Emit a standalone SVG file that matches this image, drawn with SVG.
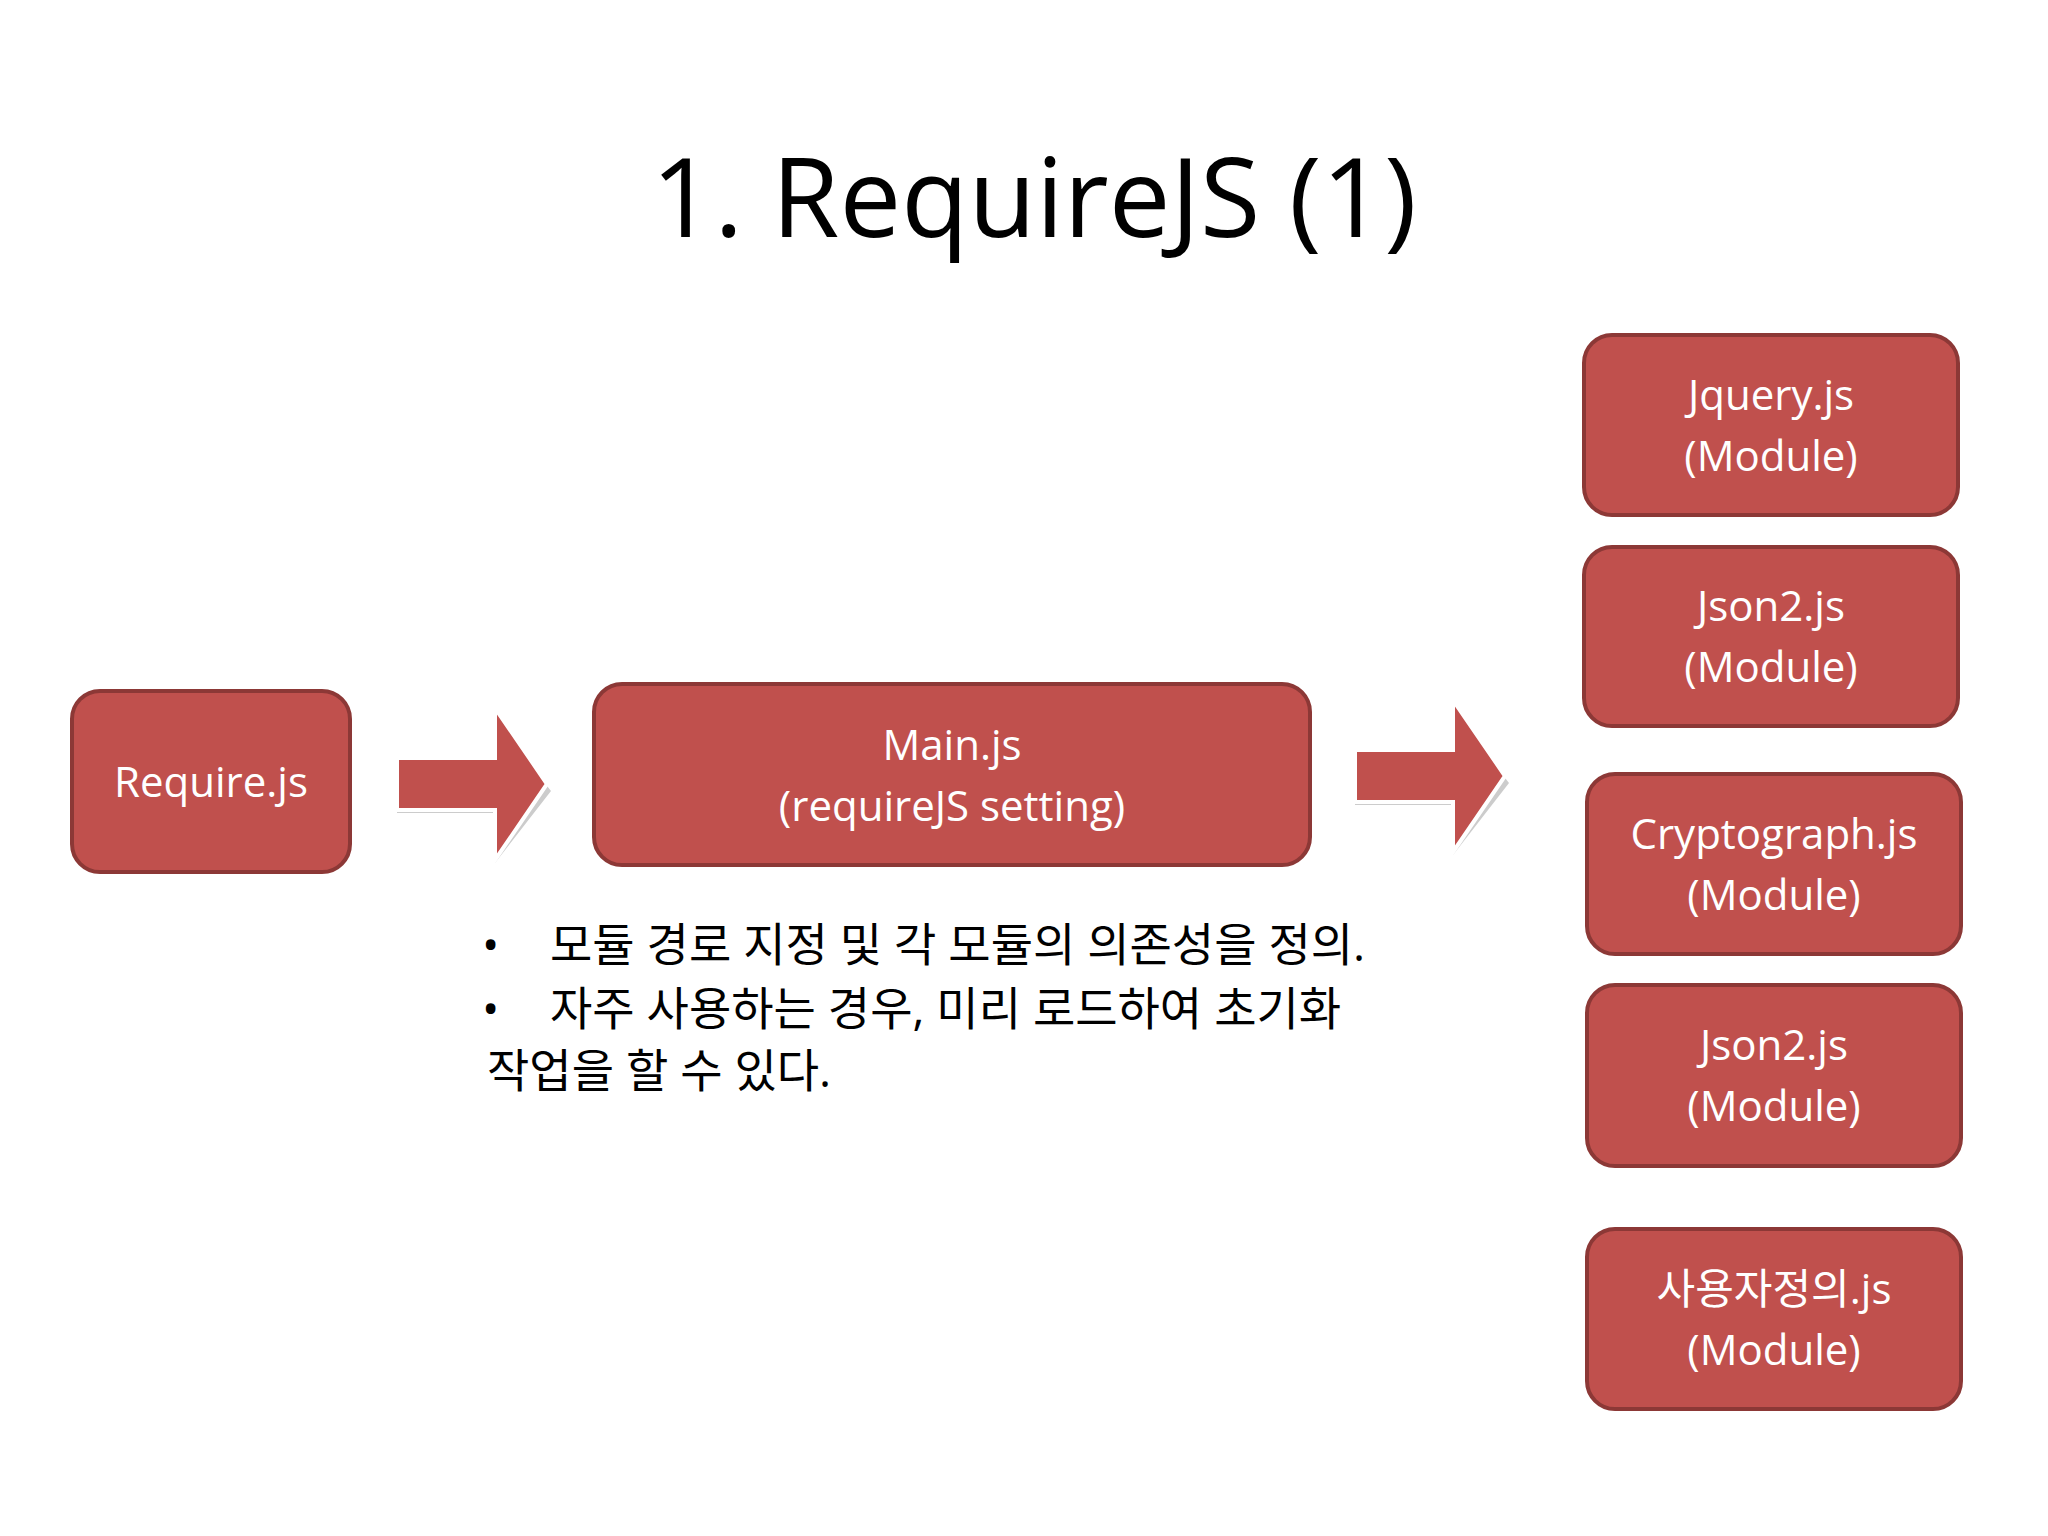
<svg xmlns="http://www.w3.org/2000/svg" width="2048" height="1536" viewBox="0 0 2048 1536">
<style>
.box{fill:#c0504d;stroke:#8c3836;stroke-width:4}
.lbl{font-family:"Open Sans","Noto Sans CJK KR",sans-serif;font-size:42px;fill:#fff;text-anchor:middle}
.body{font-family:"Open Sans","Noto Sans CJK KR",sans-serif;font-size:46px;fill:#000}
.arr{fill:#c0504d;stroke:#fff;stroke-width:4}
.sh{fill:#ccc}
</style>
<rect width="2048" height="1536" fill="#fff"/>
<text x="1034" y="237" font-family="'Open Sans',sans-serif" font-size="110" text-anchor="middle">1. RequireJS (1)</text>
<g id="require"><rect class="box" x="72" y="691" width="278" height="181" rx="28"/><text class="lbl" x="211" y="797">Require.js</text></g>
<g id="main"><rect class="box" x="594" y="684" width="716" height="181" rx="28"/><text class="lbl" x="952" y="760">Main.js</text><text class="lbl" x="952" y="821">(requireJS setting)</text></g>
<g id="connectors">
<path class="sh" d="M397,763 h98 v-50 l56,72 l-56,72 v-50 h-98z" transform="translate(0,6)"/>
<path class="arr" d="M397,758 h98 v-50 l52,76 l-52,76 v-50 h-98z"/>
<path class="sh" d="M1355,755 h98 v-50 l56,72 l-56,72 v-50 h-98z" transform="translate(0,6)"/>
<path class="arr" d="M1355,750 h98 v-50 l52,76 l-52,76 v-50 h-98z"/>
</g>
<g id="m1"><rect class="box" x="1584" y="335" width="374" height="180" rx="28"/><text class="lbl" x="1771" y="410">Jquery.js</text><text class="lbl" x="1771" y="471">(Module)</text></g>
<g id="m2"><rect class="box" x="1584" y="547" width="374" height="179" rx="28"/><text class="lbl" x="1771" y="621">Json2.js</text><text class="lbl" x="1771" y="682">(Module)</text></g>
<g id="m3"><rect class="box" x="1587" y="774" width="374" height="180" rx="28"/><text class="lbl" x="1774" y="849">Cryptograph.js</text><text class="lbl" x="1774" y="910">(Module)</text></g>
<g id="m4"><rect class="box" x="1587" y="985" width="374" height="181" rx="28"/><text class="lbl" x="1774" y="1060">Json2.js</text><text class="lbl" x="1774" y="1121">(Module)</text></g>
<g id="m5"><rect class="box" x="1587" y="1229" width="374" height="180" rx="28"/><text class="lbl" x="1774" y="1304">사용자정의.js</text><text class="lbl" x="1774" y="1365">(Module)</text></g>
<g id="notes">
<text class="body" x="482" y="961">•</text><text class="body" x="550" y="961">모듈 경로 지정 및 각 모듈의 의존성을 정의.</text>
<text class="body" x="482" y="1025">•</text><text class="body" x="550" y="1025">자주 사용하는 경우, 미리 로드하여  초기화</text>
<text class="body" x="487" y="1087">작업을 할 수 있다.</text>
</g>
</svg>
